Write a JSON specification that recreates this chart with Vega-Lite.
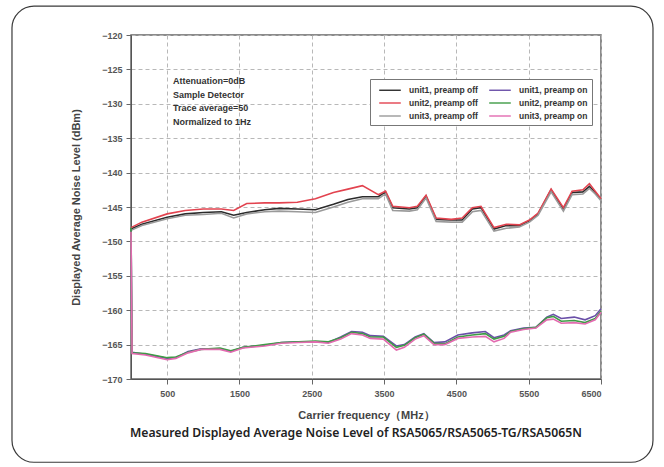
{
  "$schema": "https://vega.github.io/schema/vega-lite/v6.json",
  "autosize": "none",
  "width": 470,
  "height": 344,
  "padding": {"left": 131, "top": 35, "right": 63, "bottom": 88},
  "background": "white",
  "resolve": {"axis": {"x": "independent", "y": "independent"}},
  "config": {
    "view": {"stroke": "#666", "strokeWidth": 1.5},
    "axis": {
      "labelFont": "Liberation Sans",
      "labelFontWeight": "bold",
      "labelFontSize": 9,
      "labelColor": "#555",
      "titleFont": "Liberation Sans",
      "titleFontWeight": "bold",
      "titleColor": "#444",
      "domainColor": "#555",
      "tickColor": "#666"
    }
  },
  "datasets": {
    "dan": [
      {"series": "unit1, preamp off", "freq": 0, "dbm": -148.2},
      {"series": "unit1, preamp off", "freq": 150, "dbm": -147.5},
      {"series": "unit1, preamp off", "freq": 500, "dbm": -146.5},
      {"series": "unit1, preamp off", "freq": 750, "dbm": -146.0},
      {"series": "unit1, preamp off", "freq": 1000, "dbm": -145.8},
      {"series": "unit1, preamp off", "freq": 1250, "dbm": -145.7},
      {"series": "unit1, preamp off", "freq": 1420, "dbm": -146.2},
      {"series": "unit1, preamp off", "freq": 1600, "dbm": -145.8},
      {"series": "unit1, preamp off", "freq": 1850, "dbm": -145.4},
      {"series": "unit1, preamp off", "freq": 2050, "dbm": -145.2},
      {"series": "unit1, preamp off", "freq": 2300, "dbm": -145.3},
      {"series": "unit1, preamp off", "freq": 2550, "dbm": -145.4},
      {"series": "unit1, preamp off", "freq": 2800, "dbm": -144.6},
      {"series": "unit1, preamp off", "freq": 3000, "dbm": -143.9},
      {"series": "unit1, preamp off", "freq": 3200, "dbm": -143.5},
      {"series": "unit1, preamp off", "freq": 3420, "dbm": -143.5},
      {"series": "unit1, preamp off", "freq": 3520, "dbm": -142.8},
      {"series": "unit1, preamp off", "freq": 3620, "dbm": -145.1},
      {"series": "unit1, preamp off", "freq": 3850, "dbm": -145.3},
      {"series": "unit1, preamp off", "freq": 3960, "dbm": -145.1},
      {"series": "unit1, preamp off", "freq": 4080, "dbm": -143.4},
      {"series": "unit1, preamp off", "freq": 4220, "dbm": -146.8},
      {"series": "unit1, preamp off", "freq": 4430, "dbm": -146.9},
      {"series": "unit1, preamp off", "freq": 4580, "dbm": -146.9},
      {"series": "unit1, preamp off", "freq": 4720, "dbm": -145.3},
      {"series": "unit1, preamp off", "freq": 4840, "dbm": -145.1},
      {"series": "unit1, preamp off", "freq": 5020, "dbm": -148.2},
      {"series": "unit1, preamp off", "freq": 5190, "dbm": -147.7},
      {"series": "unit1, preamp off", "freq": 5370, "dbm": -147.7},
      {"series": "unit1, preamp off", "freq": 5510, "dbm": -147.0},
      {"series": "unit1, preamp off", "freq": 5630, "dbm": -146.0},
      {"series": "unit1, preamp off", "freq": 5810, "dbm": -142.5},
      {"series": "unit1, preamp off", "freq": 5980, "dbm": -145.3},
      {"series": "unit1, preamp off", "freq": 6100, "dbm": -142.9},
      {"series": "unit1, preamp off", "freq": 6250, "dbm": -142.8},
      {"series": "unit1, preamp off", "freq": 6340, "dbm": -142.0},
      {"series": "unit1, preamp off", "freq": 6420, "dbm": -142.9},
      {"series": "unit1, preamp off", "freq": 6500, "dbm": -143.9},

      {"series": "unit2, preamp off", "freq": 0, "dbm": -148.0},
      {"series": "unit2, preamp off", "freq": 150, "dbm": -147.2},
      {"series": "unit2, preamp off", "freq": 500, "dbm": -146.0},
      {"series": "unit2, preamp off", "freq": 750, "dbm": -145.5},
      {"series": "unit2, preamp off", "freq": 1000, "dbm": -145.3},
      {"series": "unit2, preamp off", "freq": 1250, "dbm": -145.3},
      {"series": "unit2, preamp off", "freq": 1420, "dbm": -145.5},
      {"series": "unit2, preamp off", "freq": 1600, "dbm": -144.5},
      {"series": "unit2, preamp off", "freq": 1850, "dbm": -144.4},
      {"series": "unit2, preamp off", "freq": 2050, "dbm": -144.4},
      {"series": "unit2, preamp off", "freq": 2300, "dbm": -144.3},
      {"series": "unit2, preamp off", "freq": 2550, "dbm": -143.8},
      {"series": "unit2, preamp off", "freq": 2800, "dbm": -142.9},
      {"series": "unit2, preamp off", "freq": 3000, "dbm": -142.4},
      {"series": "unit2, preamp off", "freq": 3200, "dbm": -141.9},
      {"series": "unit2, preamp off", "freq": 3420, "dbm": -143.2},
      {"series": "unit2, preamp off", "freq": 3520, "dbm": -142.7},
      {"series": "unit2, preamp off", "freq": 3620, "dbm": -144.9},
      {"series": "unit2, preamp off", "freq": 3850, "dbm": -145.1},
      {"series": "unit2, preamp off", "freq": 3960, "dbm": -144.9},
      {"series": "unit2, preamp off", "freq": 4080, "dbm": -143.3},
      {"series": "unit2, preamp off", "freq": 4220, "dbm": -146.6},
      {"series": "unit2, preamp off", "freq": 4430, "dbm": -146.8},
      {"series": "unit2, preamp off", "freq": 4580, "dbm": -146.6},
      {"series": "unit2, preamp off", "freq": 4720, "dbm": -145.1},
      {"series": "unit2, preamp off", "freq": 4840, "dbm": -144.9},
      {"series": "unit2, preamp off", "freq": 5020, "dbm": -148.0},
      {"series": "unit2, preamp off", "freq": 5190, "dbm": -147.5},
      {"series": "unit2, preamp off", "freq": 5370, "dbm": -147.6},
      {"series": "unit2, preamp off", "freq": 5510, "dbm": -146.9},
      {"series": "unit2, preamp off", "freq": 5630, "dbm": -145.9},
      {"series": "unit2, preamp off", "freq": 5810, "dbm": -142.4},
      {"series": "unit2, preamp off", "freq": 5980, "dbm": -145.1},
      {"series": "unit2, preamp off", "freq": 6100, "dbm": -142.7},
      {"series": "unit2, preamp off", "freq": 6250, "dbm": -142.5},
      {"series": "unit2, preamp off", "freq": 6340, "dbm": -141.6},
      {"series": "unit2, preamp off", "freq": 6420, "dbm": -142.7},
      {"series": "unit2, preamp off", "freq": 6500, "dbm": -143.8},

      {"series": "unit3, preamp off", "freq": 0, "dbm": -148.4},
      {"series": "unit3, preamp off", "freq": 150, "dbm": -147.7},
      {"series": "unit3, preamp off", "freq": 500, "dbm": -146.7},
      {"series": "unit3, preamp off", "freq": 750, "dbm": -146.2},
      {"series": "unit3, preamp off", "freq": 1000, "dbm": -146.1},
      {"series": "unit3, preamp off", "freq": 1250, "dbm": -145.9},
      {"series": "unit3, preamp off", "freq": 1420, "dbm": -146.6},
      {"series": "unit3, preamp off", "freq": 1600, "dbm": -146.0},
      {"series": "unit3, preamp off", "freq": 1850, "dbm": -145.7},
      {"series": "unit3, preamp off", "freq": 2050, "dbm": -145.6},
      {"series": "unit3, preamp off", "freq": 2300, "dbm": -145.7},
      {"series": "unit3, preamp off", "freq": 2550, "dbm": -145.8},
      {"series": "unit3, preamp off", "freq": 2800, "dbm": -145.0},
      {"series": "unit3, preamp off", "freq": 3000, "dbm": -144.3},
      {"series": "unit3, preamp off", "freq": 3200, "dbm": -143.8},
      {"series": "unit3, preamp off", "freq": 3420, "dbm": -143.8},
      {"series": "unit3, preamp off", "freq": 3520, "dbm": -143.1},
      {"series": "unit3, preamp off", "freq": 3620, "dbm": -145.5},
      {"series": "unit3, preamp off", "freq": 3850, "dbm": -145.6},
      {"series": "unit3, preamp off", "freq": 3960, "dbm": -145.4},
      {"series": "unit3, preamp off", "freq": 4080, "dbm": -143.7},
      {"series": "unit3, preamp off", "freq": 4220, "dbm": -147.1},
      {"series": "unit3, preamp off", "freq": 4430, "dbm": -147.2},
      {"series": "unit3, preamp off", "freq": 4580, "dbm": -147.2},
      {"series": "unit3, preamp off", "freq": 4720, "dbm": -145.7},
      {"series": "unit3, preamp off", "freq": 4840, "dbm": -145.5},
      {"series": "unit3, preamp off", "freq": 5020, "dbm": -148.5},
      {"series": "unit3, preamp off", "freq": 5190, "dbm": -148.1},
      {"series": "unit3, preamp off", "freq": 5370, "dbm": -147.9},
      {"series": "unit3, preamp off", "freq": 5510, "dbm": -147.2},
      {"series": "unit3, preamp off", "freq": 5630, "dbm": -146.2},
      {"series": "unit3, preamp off", "freq": 5810, "dbm": -142.8},
      {"series": "unit3, preamp off", "freq": 5980, "dbm": -145.6},
      {"series": "unit3, preamp off", "freq": 6100, "dbm": -143.2},
      {"series": "unit3, preamp off", "freq": 6250, "dbm": -143.1},
      {"series": "unit3, preamp off", "freq": 6340, "dbm": -142.3},
      {"series": "unit3, preamp off", "freq": 6420, "dbm": -143.1},
      {"series": "unit3, preamp off", "freq": 6500, "dbm": -144.1},

      {"series": "unit1, preamp on", "freq": 0, "dbm": -148.3},
      {"series": "unit1, preamp on", "freq": 15, "dbm": -166.1},
      {"series": "unit1, preamp on", "freq": 200, "dbm": -166.4},
      {"series": "unit1, preamp on", "freq": 500, "dbm": -167.0},
      {"series": "unit1, preamp on", "freq": 620, "dbm": -166.9},
      {"series": "unit1, preamp on", "freq": 790, "dbm": -166.0},
      {"series": "unit1, preamp on", "freq": 970, "dbm": -165.6},
      {"series": "unit1, preamp on", "freq": 1230, "dbm": -165.6},
      {"series": "unit1, preamp on", "freq": 1380, "dbm": -166.0},
      {"series": "unit1, preamp on", "freq": 1550, "dbm": -165.4},
      {"series": "unit1, preamp on", "freq": 1850, "dbm": -165.1},
      {"series": "unit1, preamp on", "freq": 2080, "dbm": -164.7},
      {"series": "unit1, preamp on", "freq": 2320, "dbm": -164.6},
      {"series": "unit1, preamp on", "freq": 2550, "dbm": -164.6},
      {"series": "unit1, preamp on", "freq": 2730, "dbm": -164.7},
      {"series": "unit1, preamp on", "freq": 2900, "dbm": -163.9},
      {"series": "unit1, preamp on", "freq": 3050, "dbm": -163.1},
      {"series": "unit1, preamp on", "freq": 3200, "dbm": -163.2},
      {"series": "unit1, preamp on", "freq": 3310, "dbm": -163.7},
      {"series": "unit1, preamp on", "freq": 3490, "dbm": -163.8},
      {"series": "unit1, preamp on", "freq": 3670, "dbm": -165.2},
      {"series": "unit1, preamp on", "freq": 3780, "dbm": -165.0},
      {"series": "unit1, preamp on", "freq": 3930, "dbm": -163.9},
      {"series": "unit1, preamp on", "freq": 4050, "dbm": -163.4},
      {"series": "unit1, preamp on", "freq": 4190, "dbm": -164.7},
      {"series": "unit1, preamp on", "freq": 4340, "dbm": -164.6},
      {"series": "unit1, preamp on", "freq": 4520, "dbm": -163.6},
      {"series": "unit1, preamp on", "freq": 4720, "dbm": -163.3},
      {"series": "unit1, preamp on", "freq": 4900, "dbm": -163.1},
      {"series": "unit1, preamp on", "freq": 5020, "dbm": -164.0},
      {"series": "unit1, preamp on", "freq": 5160, "dbm": -163.6},
      {"series": "unit1, preamp on", "freq": 5250, "dbm": -163.0},
      {"series": "unit1, preamp on", "freq": 5430, "dbm": -162.6},
      {"series": "unit1, preamp on", "freq": 5600, "dbm": -162.5},
      {"series": "unit1, preamp on", "freq": 5750, "dbm": -161.0},
      {"series": "unit1, preamp on", "freq": 5840, "dbm": -160.6},
      {"series": "unit1, preamp on", "freq": 5950, "dbm": -161.2},
      {"series": "unit1, preamp on", "freq": 6130, "dbm": -161.0},
      {"series": "unit1, preamp on", "freq": 6280, "dbm": -161.4},
      {"series": "unit1, preamp on", "freq": 6420, "dbm": -160.8},
      {"series": "unit1, preamp on", "freq": 6500, "dbm": -159.8},

      {"series": "unit2, preamp on", "freq": 0, "dbm": -148.0},
      {"series": "unit2, preamp on", "freq": 15, "dbm": -166.2},
      {"series": "unit2, preamp on", "freq": 200, "dbm": -166.3},
      {"series": "unit2, preamp on", "freq": 500, "dbm": -166.9},
      {"series": "unit2, preamp on", "freq": 620, "dbm": -166.8},
      {"series": "unit2, preamp on", "freq": 790, "dbm": -166.1},
      {"series": "unit2, preamp on", "freq": 970, "dbm": -165.7},
      {"series": "unit2, preamp on", "freq": 1230, "dbm": -165.5},
      {"series": "unit2, preamp on", "freq": 1380, "dbm": -165.9},
      {"series": "unit2, preamp on", "freq": 1550, "dbm": -165.4},
      {"series": "unit2, preamp on", "freq": 1850, "dbm": -165.0},
      {"series": "unit2, preamp on", "freq": 2080, "dbm": -164.7},
      {"series": "unit2, preamp on", "freq": 2320, "dbm": -164.6},
      {"series": "unit2, preamp on", "freq": 2550, "dbm": -164.5},
      {"series": "unit2, preamp on", "freq": 2730, "dbm": -164.6},
      {"series": "unit2, preamp on", "freq": 2900, "dbm": -164.0},
      {"series": "unit2, preamp on", "freq": 3050, "dbm": -163.2},
      {"series": "unit2, preamp on", "freq": 3200, "dbm": -163.4},
      {"series": "unit2, preamp on", "freq": 3310, "dbm": -163.9},
      {"series": "unit2, preamp on", "freq": 3490, "dbm": -163.9},
      {"series": "unit2, preamp on", "freq": 3670, "dbm": -165.4},
      {"series": "unit2, preamp on", "freq": 3780, "dbm": -165.1},
      {"series": "unit2, preamp on", "freq": 3930, "dbm": -164.0},
      {"series": "unit2, preamp on", "freq": 4050, "dbm": -163.5},
      {"series": "unit2, preamp on", "freq": 4190, "dbm": -164.8},
      {"series": "unit2, preamp on", "freq": 4340, "dbm": -164.9},
      {"series": "unit2, preamp on", "freq": 4520, "dbm": -163.9},
      {"series": "unit2, preamp on", "freq": 4720, "dbm": -163.6},
      {"series": "unit2, preamp on", "freq": 4900, "dbm": -163.4},
      {"series": "unit2, preamp on", "freq": 5020, "dbm": -164.2},
      {"series": "unit2, preamp on", "freq": 5160, "dbm": -163.8},
      {"series": "unit2, preamp on", "freq": 5250, "dbm": -163.1},
      {"series": "unit2, preamp on", "freq": 5430, "dbm": -162.7},
      {"series": "unit2, preamp on", "freq": 5600, "dbm": -162.5},
      {"series": "unit2, preamp on", "freq": 5750, "dbm": -161.1},
      {"series": "unit2, preamp on", "freq": 5840, "dbm": -160.9},
      {"series": "unit2, preamp on", "freq": 5950, "dbm": -161.6},
      {"series": "unit2, preamp on", "freq": 6130, "dbm": -161.5},
      {"series": "unit2, preamp on", "freq": 6280, "dbm": -161.8},
      {"series": "unit2, preamp on", "freq": 6420, "dbm": -161.2},
      {"series": "unit2, preamp on", "freq": 6500, "dbm": -160.1},

      {"series": "unit3, preamp on", "freq": 0, "dbm": -148.6},
      {"series": "unit3, preamp on", "freq": 15, "dbm": -166.3},
      {"series": "unit3, preamp on", "freq": 200, "dbm": -166.5},
      {"series": "unit3, preamp on", "freq": 500, "dbm": -167.2},
      {"series": "unit3, preamp on", "freq": 620, "dbm": -167.0},
      {"series": "unit3, preamp on", "freq": 790, "dbm": -166.2},
      {"series": "unit3, preamp on", "freq": 970, "dbm": -165.7},
      {"series": "unit3, preamp on", "freq": 1230, "dbm": -165.7},
      {"series": "unit3, preamp on", "freq": 1380, "dbm": -166.1},
      {"series": "unit3, preamp on", "freq": 1550, "dbm": -165.5},
      {"series": "unit3, preamp on", "freq": 1850, "dbm": -165.2},
      {"series": "unit3, preamp on", "freq": 2080, "dbm": -164.8},
      {"series": "unit3, preamp on", "freq": 2320, "dbm": -164.7},
      {"series": "unit3, preamp on", "freq": 2550, "dbm": -164.6},
      {"series": "unit3, preamp on", "freq": 2730, "dbm": -164.8},
      {"series": "unit3, preamp on", "freq": 2900, "dbm": -164.2},
      {"series": "unit3, preamp on", "freq": 3050, "dbm": -163.4},
      {"series": "unit3, preamp on", "freq": 3200, "dbm": -163.6},
      {"series": "unit3, preamp on", "freq": 3310, "dbm": -164.1},
      {"series": "unit3, preamp on", "freq": 3490, "dbm": -164.2},
      {"series": "unit3, preamp on", "freq": 3670, "dbm": -165.8},
      {"series": "unit3, preamp on", "freq": 3780, "dbm": -165.4},
      {"series": "unit3, preamp on", "freq": 3930, "dbm": -164.2},
      {"series": "unit3, preamp on", "freq": 4050, "dbm": -163.7},
      {"series": "unit3, preamp on", "freq": 4190, "dbm": -165.0},
      {"series": "unit3, preamp on", "freq": 4340, "dbm": -165.0},
      {"series": "unit3, preamp on", "freq": 4520, "dbm": -164.1},
      {"series": "unit3, preamp on", "freq": 4720, "dbm": -163.9},
      {"series": "unit3, preamp on", "freq": 4900, "dbm": -163.8},
      {"series": "unit3, preamp on", "freq": 5020, "dbm": -164.6},
      {"series": "unit3, preamp on", "freq": 5160, "dbm": -164.1},
      {"series": "unit3, preamp on", "freq": 5250, "dbm": -163.2},
      {"series": "unit3, preamp on", "freq": 5430, "dbm": -162.8},
      {"series": "unit3, preamp on", "freq": 5600, "dbm": -162.6},
      {"series": "unit3, preamp on", "freq": 5750, "dbm": -161.4},
      {"series": "unit3, preamp on", "freq": 5840, "dbm": -161.3},
      {"series": "unit3, preamp on", "freq": 5950, "dbm": -161.9},
      {"series": "unit3, preamp on", "freq": 6130, "dbm": -161.8},
      {"series": "unit3, preamp on", "freq": 6280, "dbm": -162.0},
      {"series": "unit3, preamp on", "freq": 6420, "dbm": -161.4},
      {"series": "unit3, preamp on", "freq": 6500, "dbm": -160.3}
    ]
  },
  "layer": [
    {
      "data": {"name": "dan"},
      "mark": {"type": "line", "strokeWidth": 1.6, "interpolate": "linear"},
      "encoding": {
        "x": {
          "field": "freq", "type": "quantitative",
          "scale": {"domain": [0, 6500], "nice": false, "zero": false},
          "axis": {"values": [500, 1500, 2500, 3500, 4500, 5500, 6500], "format": "d", "grid": true, "gridColor": "#b8b8b8", "gridOpacity": 1, "gridWidth": 1, "gridDash": [4, 3], "title": "Carrier frequency（MHz）", "titleFontSize": 11, "titlePadding": 11, "tickSize": 5, "labelPadding": 5}
        },
        "y": {
          "field": "dbm", "type": "quantitative",
          "scale": {"domain": [-170, -120], "nice": false, "zero": false},
          "axis": {"values": [-170, -165, -160, -155, -150, -145, -140, -135, -130, -125, -120], "format": "d", "labelOverlap": false, "grid": true, "gridColor": "#b8b8b8", "gridOpacity": 1, "gridWidth": 1, "gridDash": [4, 3], "title": "Displayed Average Noise Level (dBm)", "titleFontSize": 11, "titlePadding": 20, "tickSize": 5, "labelPadding": 4}
        },
        "color": {
          "field": "series", "type": "nominal",
          "scale": {
            "domain": ["unit1, preamp off", "unit2, preamp off", "unit3, preamp off", "unit1, preamp on", "unit2, preamp on", "unit3, preamp on"],
            "range": ["#2b2b2b", "#e2434f", "#9a9a9a", "#6a4fa8", "#3e9b45", "#e36bb0"]
          },
          "legend": {
            "title": null,
            "orient": "none",
            "legendX": 239,
            "legendY": 44,
            "columns": 2,
            "columnPadding": 6,
            "rowPadding": 1,
            "padding": 4,
            "strokeColor": "#777",
            "fillColor": "white",
            "symbolType": "M-1.8,0H1.8",
            "symbolSize": 144,
            "symbolStrokeWidth": 1.4,
            "symbolOffset": 9,
            "labelOffset": 12,
            "labelFont": "Liberation Sans",
            "labelFontWeight": "bold",
            "labelFontSize": 8.5,
            "labelColor": "#333"
          }
        },
        "detail": {"field": "series"}
      }
    },
    {
      "data": {"values": [{"frame": "card"}]},
      "mark": {"type": "rect", "fill": null, "stroke": "#3a3a3a", "strokeWidth": 1.2, "cornerRadius": 22, "clip": false},
      "encoding": {
        "x": {"datum": -1646, "type": "quantitative", "axis": null},
        "x2": {"datum": 7219},
        "y": {"datum": -115.8, "type": "quantitative", "axis": null},
        "y2": {"datum": -182.1}
      }
    },
    {
      "data": {"values": [{"note": "conditions"}]},
      "mark": {
        "type": "text",
        "text": ["Attenuation=0dB", "Sample Detector", "Trace average=50", "Normalized to 1Hz"],
        "align": "left",
        "baseline": "middle",
        "lineHeight": 13.5,
        "font": "Liberation Sans",
        "fontWeight": "bold",
        "fontSize": 9,
        "color": "#333"
      },
      "encoding": {
        "x": {"datum": 580, "type": "quantitative", "axis": null},
        "y": {"datum": -126.7, "type": "quantitative", "axis": null}
      }
    },
    {
      "data": {"values": [{"note": "caption"}]},
      "mark": {
        "type": "text",
        "text": "Measured Displayed Average Noise Level of RSA5065/RSA5065-TG/RSA5065N",
        "align": "center",
        "baseline": "middle",
        "font": "Noto Sans",
        "fontWeight": 600,
        "fontSize": 12.2,
        "color": "#222",
        "clip": false
      },
      "encoding": {
        "x": {"datum": 3110, "type": "quantitative", "axis": null},
        "y": {"datum": -177.9, "type": "quantitative", "axis": null}
      }
    }
  ]
}
